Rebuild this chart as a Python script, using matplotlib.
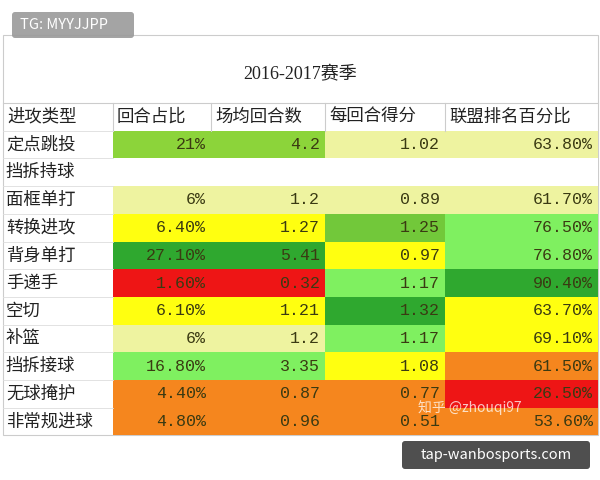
import matplotlib.pyplot as plt
from matplotlib.patches import Rectangle, FancyBboxPatch

plt.rcParams['font.family'] = ['Noto Sans CJK SC', 'DejaVu Sans']

title = "2016-2017赛季"
headers = ["进攻类型", "回合占比", "场均回合数", "每回合得分", "联盟排名百分比"]
play_types = ["定点跳投", "挡拆持球", "面框单打", "转换进攻", "背身单打", "手递手",
              "空切", "补篮", "挡拆接球", "无球掩护", "非常规进球"]
poss_pct = ["21%", "", "6%", "6.40%", "27.10%", "1.60%", "6.10%", "6%", "16.80%", "4.40%", "4.80%"]
poss_per_game = ["4.2", "", "1.2", "1.27", "5.41", "0.32", "1.21", "1.2", "3.35", "0.87", "0.96"]
ppp = ["1.02", "", "0.89", "1.25", "0.97", "1.17", "1.32", "1.17", "1.08", "0.77", "0.51"]
percentile = ["63.80%", "", "61.70%", "76.50%", "76.80%", "90.40%", "63.70%", "69.10%", "61.50%", "26.50%", "53.60%"]

G, MG, LG, PY, Y, O, R, W = ("#8cd43a", "#2fa82f", "#7ff060", "#eef3a0",
                             "#ffff10", "#f5861e", "#ee1515", "#ffffff")
cell_colors = [
    [G, G, PY, PY], [W, W, W, W], [PY, PY, PY, PY], [Y, Y, "#72c83a", LG],
    [MG, MG, Y, LG], [R, R, LG, MG], [Y, Y, MG, Y], [PY, PY, LG, Y],
    [LG, LG, Y, O], [O, O, O, R], [O, O, O, O],
]

col_edges = [3, 113, 211, 325, 445, 598]
top, head_y, row_h = 35, 103, 27.7

fig = plt.figure(figsize=(6, 4.8), dpi=100)
ax = fig.add_axes([0, 0, 1, 1])
ax.set_xlim(0, 600)
ax.set_ylim(480, 0)
ax.axis('off')

ax.add_patch(Rectangle((col_edges[0], top), col_edges[-1] - col_edges[0], 400,
                       fc='white', ec='#cccccc', lw=0.8))
ax.text(300, 75, title, ha='center', va='center', fontsize=13, color='#222222',
        family=['Liberation Serif', 'Noto Sans CJK SC'])
ax.plot([col_edges[0], col_edges[-1]], [head_y, head_y], color='#cccccc', lw=0.8)

for j, h in enumerate(headers):
    ax.text(col_edges[j] + 4, head_y + row_h / 2, h, ha='left', va='center',
            fontsize=12.5, color='#222222')
    if j:
        ax.plot([col_edges[j], col_edges[j]], [head_y, head_y + row_h], color='#cccccc', lw=0.8)

cols = [poss_pct, poss_per_game, ppp, percentile]
for i, name in enumerate(play_types):
    y0 = head_y + row_h * (i + 1)
    ax.text(col_edges[0] + 3, y0 + row_h / 2, name, ha='left', va='center',
            fontsize=12.5, color='#222222')
    ax.plot([col_edges[0], col_edges[1]], [y0, y0], color='#dddddd', lw=0.6)
    for j, col in enumerate(cols):
        x0, x1 = col_edges[j + 1], col_edges[j + 2]
        ax.add_patch(Rectangle((x0, y0), x1 - x0, row_h, fc=cell_colors[i][j], ec='none'))
        ax.text(x1 - 5, y0 + row_h / 2, col[i], ha='right', va='center', fontsize=12,
                color='#3a3a12', family=['Liberation Mono', 'DejaVu Sans Mono'])

ax.text(470, 408, "知乎 @zhouqi97", ha='center', va='center', fontsize=10,
        color='white', alpha=0.75)

ax.add_patch(FancyBboxPatch((12, 12), 122, 26, boxstyle="round,pad=0,rounding_size=3",
                            fc='#9a9a9a', ec='none', alpha=0.9))
ax.text(20, 25, "TG: MYYJJPP", ha='left', va='center', fontsize=10.5, color='white')
ax.add_patch(FancyBboxPatch((402, 441), 188, 28, boxstyle="round,pad=0,rounding_size=3",
                            fc='#3c3c3c', ec='none', alpha=0.9))
ax.text(496, 455, "tap-wanbosports.com", ha='center', va='center', fontsize=10.5, color='white')

fig.savefig("out.png", dpi=100)
